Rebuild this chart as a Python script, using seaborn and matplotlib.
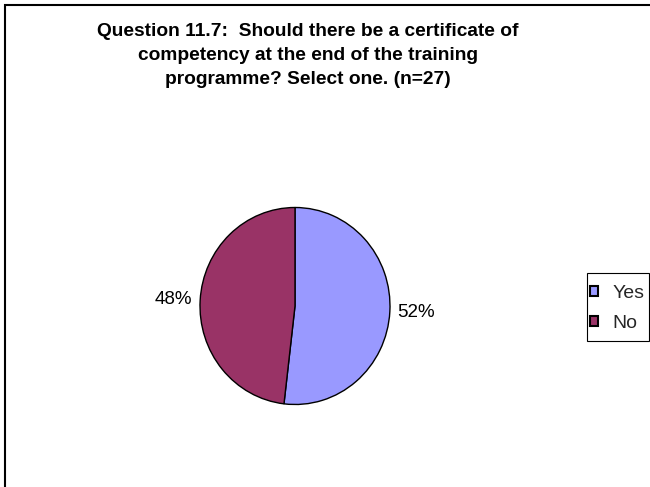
import matplotlib
matplotlib.use("Agg")
import matplotlib.pyplot as plt
from matplotlib.patches import Rectangle
import seaborn as sns

# Survey answers for question 11.7 (n=27)
categories = ["Yes", "No"]
counts = [14, 13]
slice_colors = ["#9999FF", "#993366"]
title_text = ("Question 11.7:  Should there be a certificate of\n"
              "competency at the end of the training\n"
              "programme? Select one. (n=27)")

sns.set_theme(style="white")
plt.rcParams["font.family"] = ["Liberation Sans", "DejaVu Sans"]

W, H = 650, 487
fig = plt.figure(figsize=(W / 100, H / 100), dpi=100)
fig.patch.set_facecolor("white")


def fig_box(x0, y0, x1, y1, lw):
    """Outline in pixel coordinates measured from the top-left corner."""
    fig.patches.append(Rectangle((x0 / W, 1 - y1 / H), (x1 - x0) / W,
                                 (y1 - y0) / H, transform=fig.transFigure,
                                 fill=False, edgecolor="black", linewidth=lw,
                                 zorder=0))


# chart-area border (runs off the right and bottom edges)
fig_box(5, 5, 700, 540, 1.5)

fig.text(308 / W, 1 - 55.5 / H, title_text, ha="center", va="center",
         fontsize=13.8, fontweight="bold", linespacing=1.52, color="black")

# pie plot area
cx, cy, rx, ry = 295, 306, 95, 98.5
ax = fig.add_axes([(cx - rx) / W, 1 - (cy + ry) / H, 2 * rx / W, 2 * ry / H])

total = sum(counts)
pct_labels = [f"{c / total:.0%}" for c in counts]
wedges, texts = ax.pie(counts, colors=slice_colors, startangle=90,
                       counterclock=False, labels=pct_labels,
                       labeldistance=1.08,
                       wedgeprops=dict(edgecolor="black", linewidth=1.0),
                       textprops=dict(fontsize=13.5, color="black"))
ax.set_aspect("auto")
ax.set_xlim(-1, 1)
ax.set_ylim(-1, 1)
ax.axis("off")

# legend box and entries
fig_box(587, 273, 649, 341, 0.8)
leg = fig.legend(wedges, categories, loc="upper left",
                 bbox_to_anchor=(590 / W, 1 - 285 / H),
                 frameon=False, fontsize=14,
                 handlelength=0.42, handleheight=0.42, handletextpad=0.72,
                 labelspacing=0.65, borderpad=0, borderaxespad=0)
for h in leg.legend_handles:
    h.set_linewidth(1.5)

fig.savefig("out.png", dpi=100, facecolor="white")
